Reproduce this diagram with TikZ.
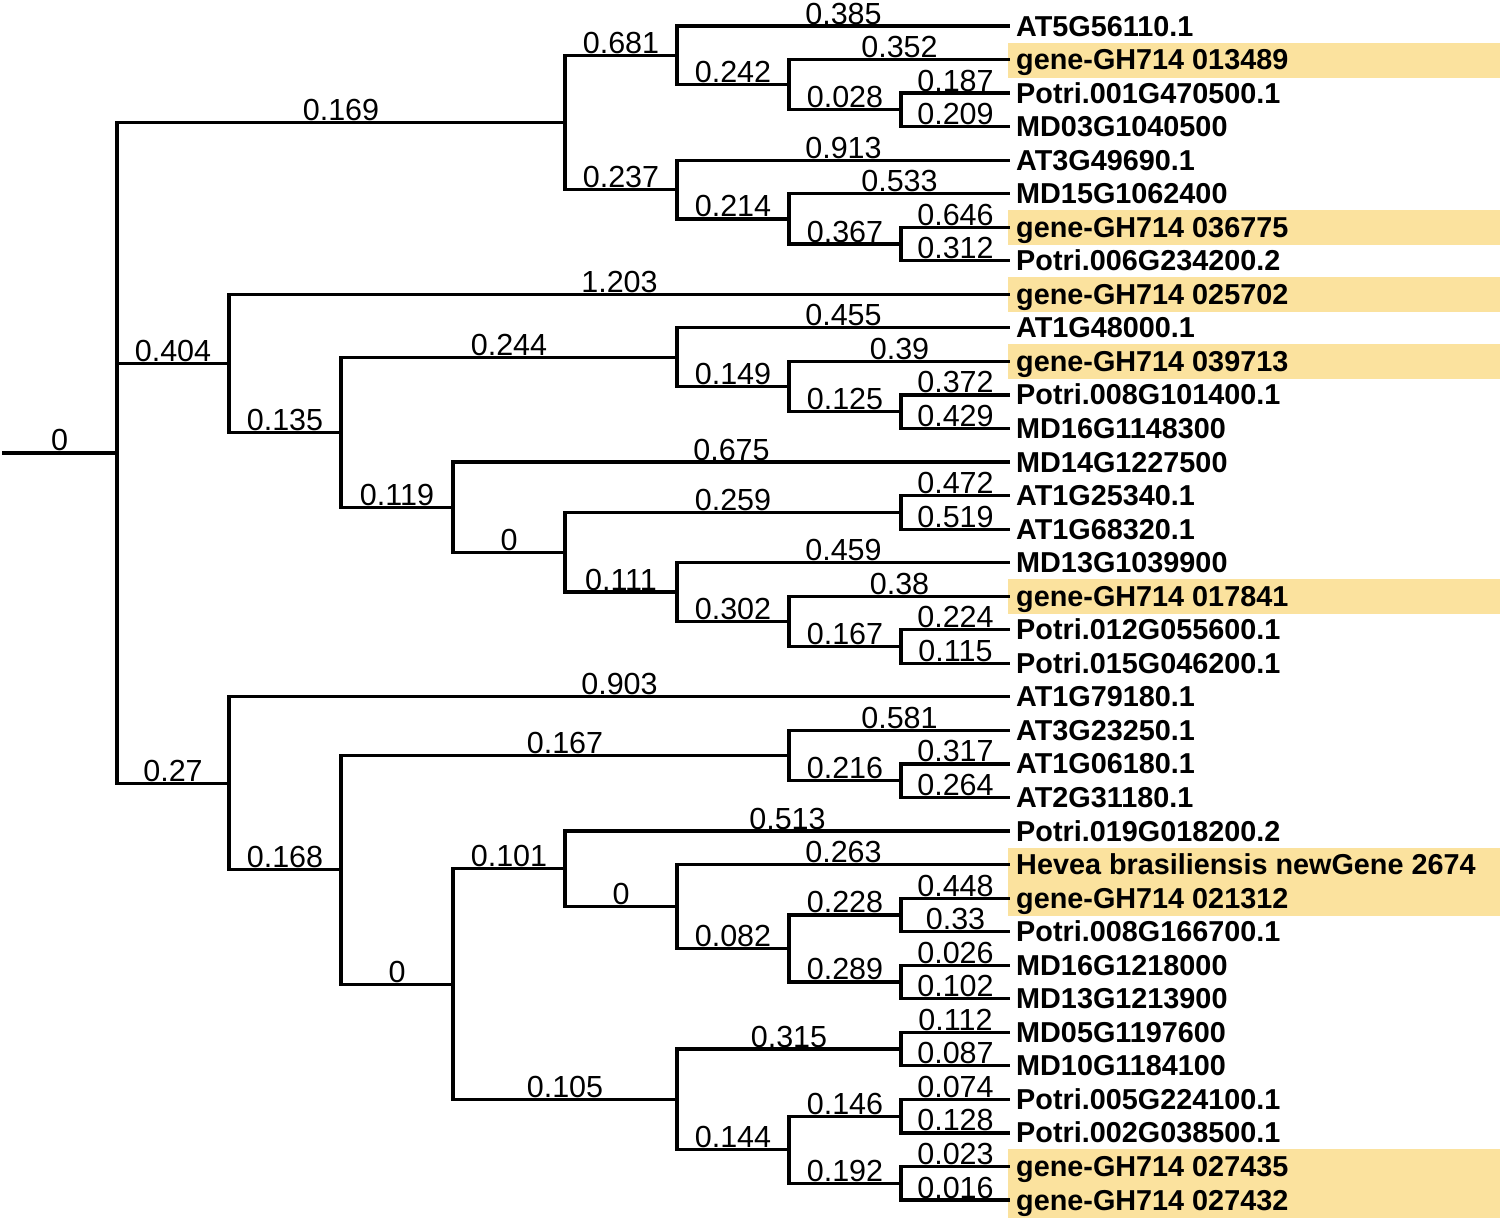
\documentclass[tikz,border=0pt]{standalone}
\usepackage{fontspec}
\setmainfont{Liberation Sans}
\usetikzlibrary{calc}
\definecolor{hlcol}{RGB}{251,226,158}
\newcommand\brn[3]{\draw[branch] (#1) |- node[blen] (b#2) {#3} (#2);}
\begin{document}
\begin{tikzpicture}[x=1pt,y=-1pt,
  branch/.style={line width=3.2pt, line join=miter, black},
  blen/.style={anchor=base, inner sep=0pt, yshift=2pt, pos=0.75, font=\fontsize{30.5}{36}\selectfont},
  leaflab/.style={anchor=base west, inner sep=0pt, xshift=6pt, yshift=-10pt, font=\fontsize{28.8}{34}\selectfont\bfseries},
  hl/.style={fill=hlcol}]
\useasboundingbox (0,0) rectangle (1505,1221);

% leaves
\foreach \i in {1,...,36} { \coordinate (l\i) at (1010,{26+(\i-1)*33.543}); }

% highlight boxes
\fill[hl] ($(l2)+(-2,-17)$) rectangle ($(l2)+(490,18)$);
\fill[hl] ($(l7)+(-2,-17)$) rectangle ($(l7)+(490,18)$);
\fill[hl] ($(l9)+(-2,-17)$) rectangle ($(l9)+(490,18)$);
\fill[hl] ($(l11)+(-2,-17)$) rectangle ($(l11)+(490,18)$);
\fill[hl] ($(l18)+(-2,-17)$) rectangle ($(l18)+(490,18)$);
\fill[hl] ($(l26)+(-2,-17)$) rectangle ($(l27)+(490,18)$);
\fill[hl] ($(l35)+(-2,-17)$) rectangle ($(l36)+(490,18)$);

% internal nodes
\coordinate (r0) at (2,452.9);
\coordinate (root) at (117,452.9);
\coordinate (A) at (565,122.45);
\coordinate (A1) at (677,55.35);
\coordinate (A1b) at (789,84.7);
\coordinate (A1c) at (901,109.85);
\coordinate (A2) at (677,189.55);
\coordinate (A2b) at (789,218.9);
\coordinate (A2c) at (901,244.05);
\coordinate (B) at (229,363.25);
\coordinate (B2) at (341,432.2);
\coordinate (B2a) at (677,357.25);
\coordinate (B2a1) at (789,386.6);
\coordinate (B2a2) at (901,411.75);
\coordinate (B2b) at (453,507.15);
\coordinate (B2c) at (565,552.2);
\coordinate (B2d) at (901,512.35);
\coordinate (B2e) at (677,592.05);
\coordinate (B2f) at (789,621.4);
\coordinate (B2g) at (901,646.55);
\coordinate (C) at (229,783.35);
\coordinate (C2) at (341,869.8);
\coordinate (C2a) at (789,755.55);
\coordinate (C2a1) at (901,780.7);
\coordinate (C2b) at (453,984.1);
\coordinate (C3) at (565,868.75);
\coordinate (C3b) at (677,906.5);
\coordinate (C3c) at (789,948.4);
\coordinate (C3d) at (901,914.9);
\coordinate (C3e) at (901,981.95);
\coordinate (C4) at (677,1099.4);
\coordinate (C4a) at (901,1049.05);
\coordinate (C4b) at (789,1149.7);
\coordinate (C4c) at (901,1116.15);
\coordinate (C4d) at (901,1183.2);

% branches
\draw[branch] (r0) -- node[blen,pos=0.5] (broot) {0} (root);
\brn{root}{A}{0.169}
\brn{root}{B}{0.404}
\brn{root}{C}{0.27}
\brn{A}{A1}{0.681}
\brn{A}{A2}{0.237}
\brn{A1}{l1}{0.385}
\brn{A1}{A1b}{0.242}
\brn{A1b}{l2}{0.352}
\brn{A1b}{A1c}{0.028}
\brn{A1c}{l3}{0.187}
\brn{A1c}{l4}{0.209}
\brn{A2}{l5}{0.913}
\brn{A2}{A2b}{0.214}
\brn{A2b}{l6}{0.533}
\brn{A2b}{A2c}{0.367}
\brn{A2c}{l7}{0.646}
\brn{A2c}{l8}{0.312}
\brn{B}{l9}{1.203}
\brn{B}{B2}{0.135}
\brn{B2}{B2a}{0.244}
\brn{B2}{B2b}{0.119}
\brn{B2a}{l10}{0.455}
\brn{B2a}{B2a1}{0.149}
\brn{B2a1}{l11}{0.39}
\brn{B2a1}{B2a2}{0.125}
\brn{B2a2}{l12}{0.372}
\brn{B2a2}{l13}{0.429}
\brn{B2b}{l14}{0.675}
\brn{B2b}{B2c}{0}
\brn{B2c}{B2d}{0.259}
\brn{B2c}{B2e}{0.111}
\brn{B2d}{l15}{0.472}
\brn{B2d}{l16}{0.519}
\brn{B2e}{l17}{0.459}
\brn{B2e}{B2f}{0.302}
\brn{B2f}{l18}{0.38}
\brn{B2f}{B2g}{0.167}
\brn{B2g}{l19}{0.224}
\brn{B2g}{l20}{0.115}
\brn{C}{l21}{0.903}
\brn{C}{C2}{0.168}
\brn{C2}{C2a}{0.167}
\brn{C2}{C2b}{0}
\brn{C2a}{l22}{0.581}
\brn{C2a}{C2a1}{0.216}
\brn{C2a1}{l23}{0.317}
\brn{C2a1}{l24}{0.264}
\brn{C2b}{C3}{0.101}
\brn{C2b}{C4}{0.105}
\brn{C3}{l25}{0.513}
\brn{C3}{C3b}{0}
\brn{C3b}{l26}{0.263}
\brn{C3b}{C3c}{0.082}
\brn{C3c}{C3d}{0.228}
\brn{C3c}{C3e}{0.289}
\brn{C3d}{l27}{0.448}
\brn{C3d}{l28}{0.33}
\brn{C3e}{l29}{0.026}
\brn{C3e}{l30}{0.102}
\brn{C4}{C4a}{0.315}
\brn{C4}{C4b}{0.144}
\brn{C4a}{l31}{0.112}
\brn{C4a}{l32}{0.087}
\brn{C4b}{C4c}{0.146}
\brn{C4b}{C4d}{0.192}
\brn{C4c}{l33}{0.074}
\brn{C4c}{l34}{0.128}
\brn{C4d}{l35}{0.023}
\brn{C4d}{l36}{0.016}

% leaf labels
\node[leaflab] (t1) at (l1) {AT5G56110.1};
\node[leaflab] (t2) at (l2) {gene-GH714 013489};
\node[leaflab] (t3) at (l3) {Potri.001G470500.1};
\node[leaflab] (t4) at (l4) {MD03G1040500};
\node[leaflab] (t5) at (l5) {AT3G49690.1};
\node[leaflab] (t6) at (l6) {MD15G1062400};
\node[leaflab] (t7) at (l7) {gene-GH714 036775};
\node[leaflab] (t8) at (l8) {Potri.006G234200.2};
\node[leaflab] (t9) at (l9) {gene-GH714 025702};
\node[leaflab] (t10) at (l10) {AT1G48000.1};
\node[leaflab] (t11) at (l11) {gene-GH714 039713};
\node[leaflab] (t12) at (l12) {Potri.008G101400.1};
\node[leaflab] (t13) at (l13) {MD16G1148300};
\node[leaflab] (t14) at (l14) {MD14G1227500};
\node[leaflab] (t15) at (l15) {AT1G25340.1};
\node[leaflab] (t16) at (l16) {AT1G68320.1};
\node[leaflab] (t17) at (l17) {MD13G1039900};
\node[leaflab] (t18) at (l18) {gene-GH714 017841};
\node[leaflab] (t19) at (l19) {Potri.012G055600.1};
\node[leaflab] (t20) at (l20) {Potri.015G046200.1};
\node[leaflab] (t21) at (l21) {AT1G79180.1};
\node[leaflab] (t22) at (l22) {AT3G23250.1};
\node[leaflab] (t23) at (l23) {AT1G06180.1};
\node[leaflab] (t24) at (l24) {AT2G31180.1};
\node[leaflab] (t25) at (l25) {Potri.019G018200.2};
\node[leaflab] (t26) at (l26) {Hevea brasiliensis newGene 2674};
\node[leaflab] (t27) at (l27) {gene-GH714 021312};
\node[leaflab] (t28) at (l28) {Potri.008G166700.1};
\node[leaflab] (t29) at (l29) {MD16G1218000};
\node[leaflab] (t30) at (l30) {MD13G1213900};
\node[leaflab] (t31) at (l31) {MD05G1197600};
\node[leaflab] (t32) at (l32) {MD10G1184100};
\node[leaflab] (t33) at (l33) {Potri.005G224100.1};
\node[leaflab] (t34) at (l34) {Potri.002G038500.1};
\node[leaflab] (t35) at (l35) {gene-GH714 027435};
\node[leaflab] (t36) at (l36) {gene-GH714 027432};
\end{tikzpicture}
\end{document}
